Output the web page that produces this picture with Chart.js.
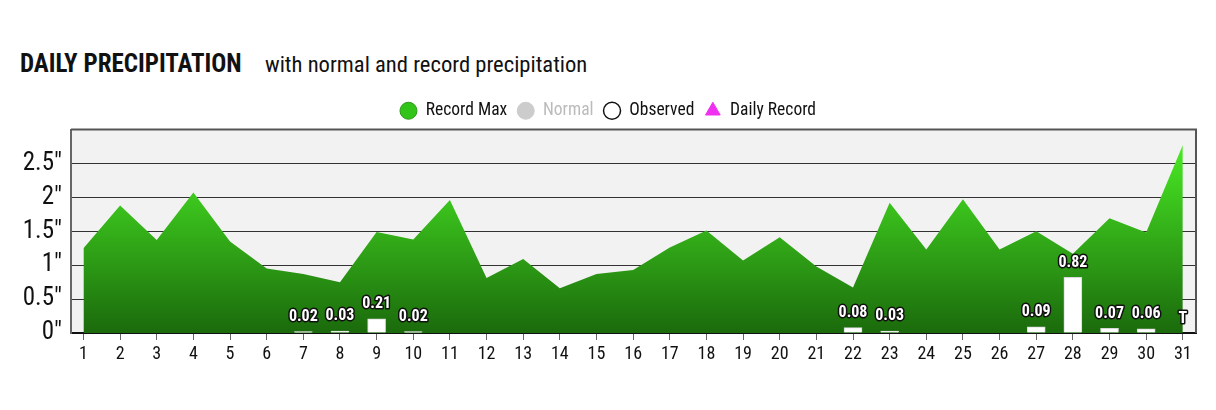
<!DOCTYPE html>
<html>
<head>
<meta charset="utf-8">
<script src="https://cdn.jsdelivr.net/npm/chart.js@4.4.1/dist/chart.umd.min.js"></script>
<style>
  html, body { margin: 0; padding: 0; background: #fff; }
  #wrap { position: relative; width: 1216px; height: 410px; overflow: hidden; }
  #chart { position: absolute; left: 0; top: 0; }
  .ttl { position: absolute; white-space: nowrap; color: #111;
         font-family: 'Roboto Condensed', 'Liberation Sans Narrow', 'DejaVu Sans Condensed', Roboto, sans-serif; }
  #main { left: 20px; top: 49px; font-size: 25px; font-weight: bold; }
  #sub { left: 265px; top: 51px; font-size: 22.6px; }
</style>
</head>
<body>
<div id="wrap">
  <div class="ttl" id="main">DAILY PRECIPITATION</div>
  <div class="ttl" id="sub">with normal and record precipitation</div>
  <canvas id="chart" width="1216" height="410"></canvas>
</div>
<script>
// ---- data ----
const days = [1,2,3,4,5,6,7,8,9,10,11,12,13,14,15,16,17,18,19,20,21,22,23,24,25,26,27,28,29,30,31];
const recordMax = [1.25,1.88,1.37,2.07,1.35,0.95,0.87,0.75,1.49,1.38,1.96,0.81,1.09,0.66,0.87,0.93,1.26,1.51,1.07,1.41,0.98,0.67,1.92,1.23,1.97,1.23,1.50,1.17,1.69,1.48,2.77];
const obsDays = [7,8,9,10,22,23,27,28,29,30,31];
const obsValues = [0.02,0.03,0.21,0.02,0.08,0.03,0.09,0.82,0.07,0.06,0];
const obsLabels = ['0.02','0.03','0.21','0.02','0.08','0.03','0.09','0.82','0.07','0.06','T'];
const yTicks = [0,0.5,1,1.5,2,2.5];

const FONT = "'Roboto Condensed', 'Liberation Sans Narrow', 'DejaVu Sans Condensed', Roboto, sans-serif";

function greenFill(ctx) {
    const area = ctx.chart.chartArea;
    if (!area) return '#2ea816';
    const g = ctx.chart.ctx.createLinearGradient(0, area.top, 0, area.bottom);
    g.addColorStop(0, '#4df526');
    g.addColorStop(1, '#1b6a0c');
    return g;
}

const plotFrame = {
    id: 'plotFrame',
    beforeDraw(chart) {
        const {ctx, chartArea: a} = chart;
        ctx.save();
        ctx.fillStyle = '#f2f2f2';
        ctx.fillRect(a.left, a.top, a.right - a.left, a.bottom - a.top);
        ctx.restore();
    },
    afterDraw(chart) {
        const {ctx, chartArea: a} = chart;
        ctx.save();
        ctx.strokeStyle = '#555';
        ctx.lineWidth = 2;
        ctx.beginPath();
        ctx.moveTo(a.left, a.top);
        ctx.lineTo(a.right, a.top);
        ctx.lineTo(a.right, a.bottom);
        ctx.stroke();
        ctx.restore();
    }
};

const barLabels = {
    id: 'barLabels',
    afterDatasetsDraw(chart) {
        const meta = chart.getDatasetMeta(1);
        const {ctx} = chart;
        ctx.save();
        ctx.font = 'bold 16px ' + FONT;
        ctx.textAlign = 'center';
        ctx.textBaseline = 'middle';
        ctx.lineJoin = 'round';
        meta.data.forEach((bar, i) => {
            const y = bar.y - 14.5;
            ctx.lineWidth = 3;
            ctx.strokeStyle = '#111';
            ctx.strokeText(obsLabels[i], bar.x, y);
            ctx.fillStyle = '#fff';
            ctx.fillText(obsLabels[i], bar.x, y);
        });
        ctx.restore();
    }
};

const legendItems = [
    { text: 'Record Max', fillStyle: '#33c41a', strokeStyle: '#2a9a16', lineWidth: 1, pointStyle: 'circle', fontColor: '#111' },
    { text: 'Normal', fillStyle: '#cccccc', strokeStyle: '#cccccc', lineWidth: 1, pointStyle: 'circle', fontColor: '#bbbbbb' },
    { text: 'Observed', fillStyle: '#ffffff', strokeStyle: '#111111', lineWidth: 1.5, pointStyle: 'circle', fontColor: '#111' },
    { text: 'Daily Record', fillStyle: '#f030f0', strokeStyle: '#f030f0', lineWidth: 1, pointStyle: 'triangle', fontColor: '#111' }
];

new Chart(document.getElementById('chart'), {
    data: {
        datasets: [
            {
                type: 'line',
                label: 'Record Max',
                data: days.map((d, i) => ({x: d, y: recordMax[i]})),
                fill: 'origin',
                backgroundColor: greenFill,
                borderWidth: 0,
                pointRadius: 0,
                tension: 0,
                order: 2
            },
            {
                type: 'bar',
                label: 'Observed',
                data: obsDays.map((d, i) => ({x: d, y: obsValues[i]})),
                backgroundColor: '#ffffff',
                borderColor: '#d8d8d8',
                borderWidth: 1,
                barThickness: 18,
                order: 0
            },
            {
                type: 'line',
                label: 'Normal',
                data: [],
                hidden: true,
                order: 1
            },
            {
                type: 'scatter',
                label: 'Daily Record',
                data: [],
                pointStyle: 'triangle',
                backgroundColor: '#f030f0',
                order: 1
            }
        ]
    },
    options: {
        responsive: false,
        animation: false,
        layout: { padding: { top: 92, right: 20, bottom: 0, left: 20 } },
        plugins: {
            legend: {
                display: true,
                position: 'top',
                onClick: null,
                labels: {
                    usePointStyle: true,
                    pointStyleWidth: 17,
                    boxHeight: 12,
                    padding: 10,
                    font: { family: FONT, size: 17.5 },
                    color: '#111',
                    generateLabels: () => legendItems.map(it => Object.assign({ hidden: false }, it))
                }
            },
            tooltip: { enabled: false }
        },
        scales: {
            x: {
                type: 'linear',
                offset: false,
                min: 0.66,
                max: 31.36,
                afterBuildTicks: s => { s.ticks = days.map(v => ({value: v})); },
                afterFit: s => { s.height = 77; },
                grid: { offset: false, drawOnChartArea: false, drawTicks: true, tickLength: 7, color: '#666', lineWidth: 1 },
                border: { color: '#111', width: 2 },
                ticks: { font: { family: FONT, size: 18 }, color: '#111', padding: 4, autoSkip: false, maxRotation: 0 }
            },
            y: {
                min: 0,
                max: 3,
                afterBuildTicks: s => { s.ticks = yTicks.map(v => ({value: v})); },
                afterFit: s => { s.width = 51; },
                grid: { color: '#333', lineWidth: 1, drawTicks: false },
                border: { color: '#666', width: 2 },
                ticks: { font: { family: FONT, size: 25 }, color: '#111', padding: 9, callback: v => v + '"' }
            }
        }
    },
    plugins: [plotFrame, barLabels]
});
</script>
</body>
</html>
